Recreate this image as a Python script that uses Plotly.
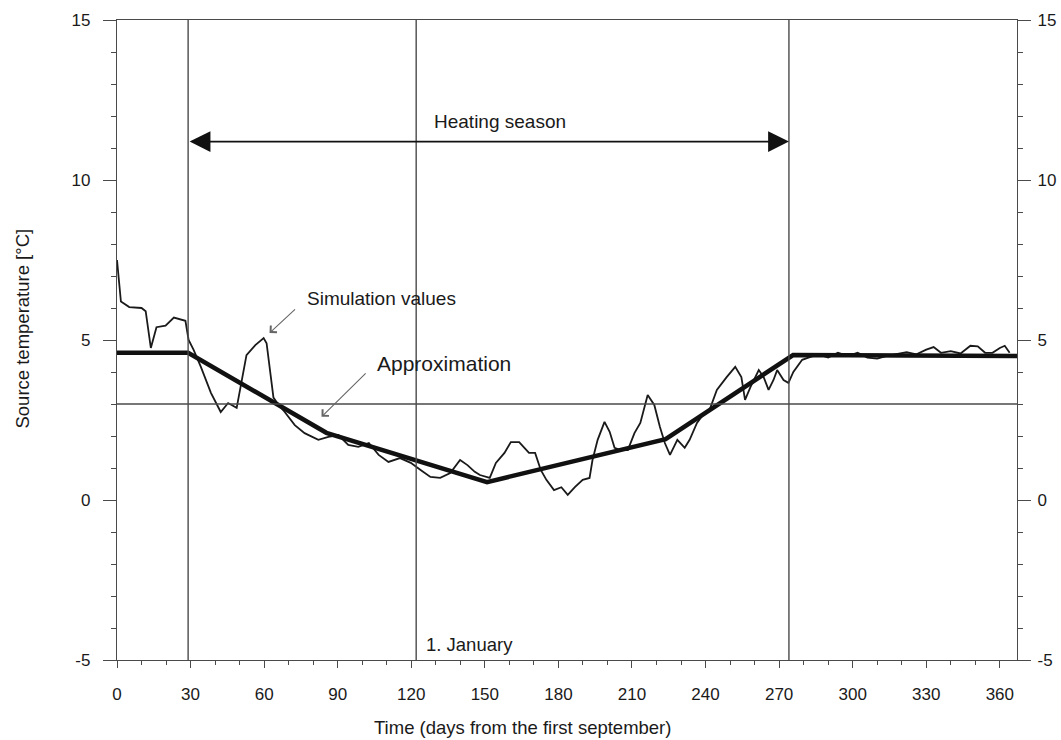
import plotly.graph_objects as go

# simulated source temperature (days from 1 September, deg C)
sim_days = [0, 1.6, 5, 10, 11.7, 13.8, 16.1, 19.8, 23.2, 27.9, 29.2, 31.2, 34.2, 38.3, 42.3,
            45.3, 48.8, 50.8, 52.8, 56.4, 59.8, 61, 63.8, 65.9, 68.4, 72.5, 76.5, 82.1, 86.2,
            90.3, 94.3, 98.4, 102.7, 106.7, 110.7, 115.4, 119.8, 123.8, 127.8, 131.8, 135.9,
            139.9, 142.9, 145.9, 148, 152, 154.5, 158, 160.6, 164, 168, 170.5, 172.8, 175.1,
            178.2, 181.2, 183.8, 186.7, 189.9, 192.7, 193.9, 196, 198.8, 200.9, 202.9, 205.3,
            208.3, 211, 213.4, 216.4, 219.1, 221.4, 223.4, 225.5, 228.5, 231.5, 233.5, 236.5,
            239.5, 241.6, 244.6, 248.6, 252.1, 254.6, 256.1, 258.3, 260.3, 261.7, 263.7, 265.7,
            267.7, 269.2, 271.8, 273.8, 275.8, 279.4, 282.8, 286, 290, 294, 298, 302, 306, 310,
            314, 318, 322, 326, 330, 333, 336, 340, 344, 348, 351, 354, 357, 360, 362, 364]
sim_temp = [7.5, 6.2, 6.03, 6.0, 5.9, 4.75, 5.4, 5.45, 5.7, 5.6, 5.0, 4.7, 4.16, 3.35, 2.75,
            3.03, 2.88, 3.75, 4.53, 4.84, 5.06, 4.9, 3.2, 2.97, 2.75, 2.34, 2.09, 1.88, 1.97,
            2.03, 1.72, 1.66, 1.78, 1.41, 1.19, 1.31, 1.16, 0.94, 0.72, 0.69, 0.84,
            1.25, 1.09, 0.88, 0.78, 0.69, 1.16, 1.47, 1.81, 1.81, 1.47, 1.47, 0.94, 0.63,
            0.31, 0.4, 0.16, 0.4, 0.63, 0.69, 1.25, 1.88, 2.44, 2.13, 1.63, 1.56,
            1.56, 2.09, 2.41, 3.28, 2.97, 2.28, 1.78, 1.41, 1.88, 1.63, 1.88, 2.41,
            2.72, 2.81, 3.44, 3.84, 4.16, 3.84, 3.13, 3.53, 3.84, 4.06, 3.84, 3.44,
            3.75, 4.06, 3.75, 3.66, 4.0, 4.38, 4.47, 4.55, 4.45, 4.6, 4.5, 4.6, 4.45, 4.42,
            4.5, 4.55, 4.62, 4.55, 4.7, 4.78, 4.6, 4.65, 4.58, 4.82, 4.8, 4.6, 4.6, 4.75, 4.82, 4.6]

# piecewise linear approximation
approx_days = [0, 29, 85.4, 150.9, 223.7, 275.7, 367]
approx_temp = [4.6, 4.6, 2.1, 0.56, 1.9, 4.53, 4.5]

season_start = 29
season_end = 274
january_day = 122
ref_temp = 3.0
arrow_temp = 11.2

x_ticks = list(range(0, 361, 30))
y_ticks = [-5, 0, 5, 10, 15]
y_tick_text = ["-5", "0", "5", "10", "15"]

font = "Liberation Sans, Arial, sans-serif"
ink = "#1a1a1a"
frame = "#4a4a4a"

fig = go.Figure()

fig.add_trace(go.Scatter(x=sim_days, y=sim_temp, mode="lines",
                         line=dict(color="#1a1a1a", width=1.8), hoverinfo="skip"))
fig.add_trace(go.Scatter(x=approx_days, y=approx_temp, mode="lines", yaxis="y2",
                         line=dict(color="#111111", width=4.5), hoverinfo="skip"))

for d in [season_start, january_day, season_end]:
    fig.add_vline(x=d, line=dict(color=frame, width=1.4))
fig.add_hline(y=ref_temp, line=dict(color=frame, width=1.4))

# heating season double arrow
fig.add_annotation(x=season_end, y=arrow_temp, ax=season_start, ay=arrow_temp,
                   xref="x", yref="y", axref="x", ayref="y", text="",
                   showarrow=True, arrowhead=2, arrowside="end+start",
                   arrowwidth=1.6, arrowsize=2.6, arrowcolor="#111111")
fig.add_annotation(x=156, y=11.84, text="Heating season", showarrow=False,
                   font=dict(family=font, size=19, color=ink))

# pointer labels
fig.add_annotation(x=62.2, y=5.22, ax=73.2, ay=6.0, axref="x", ayref="y", text="",
                   showarrow=True, arrowhead=4, arrowwidth=1.1, arrowsize=1.6,
                   arrowcolor="#666666")
fig.add_annotation(x=107.8, y=6.31, text="Simulation values", showarrow=False,
                   font=dict(family=font, size=19, color=ink))
fig.add_annotation(x=83.4, y=2.6, ax=102, ay=4.0, axref="x", ayref="y", text="",
                   showarrow=True, arrowhead=4, arrowwidth=1.1, arrowsize=1.6,
                   arrowcolor="#666666")
fig.add_annotation(x=133.4, y=4.28, text="Approximation", showarrow=False,
                   font=dict(family=font, size=21, color=ink))
fig.add_annotation(x=125, y=-4.53, text="1. January", showarrow=False, xanchor="left",
                   font=dict(family=font, size=18.5, color=ink))

# axis titles
fig.add_annotation(x=-0.1055, y=0.518, xref="paper", yref="paper", textangle=-90,
                   xanchor="center", yanchor="middle",
                   text="Source temperature [°C]", showarrow=False,
                   font=dict(family=font, size=18.5, color=ink))
fig.add_annotation(x=0.4505, y=-0.106, xref="paper", yref="paper",
                   xanchor="center", yanchor="middle",
                   text="Time (days from the first september)", showarrow=False,
                   font=dict(family=font, size=18.5, color=ink))

tick_font = dict(family=font, size=17, color=ink)
fig.update_layout(
    width=1061, height=740,
    margin=dict(l=117, r=44, t=20, b=80),
    paper_bgcolor="white", plot_bgcolor="white",
    showlegend=False,
    xaxis=dict(range=[0, 367], tickvals=x_ticks, showgrid=False, zeroline=False,
               automargin=False,
               showline=True, linecolor=frame, linewidth=1.4, mirror=True,
               ticks="outside", ticklen=7, tickcolor=frame, tickfont=tick_font,
               ticklabelstandoff=11,
               minor=dict(dtick=10, ticks="outside", ticklen=4, tickcolor=frame)),
    yaxis=dict(range=[-5, 15], tickvals=y_ticks, ticktext=y_tick_text,
               showgrid=False, zeroline=False, automargin=False,
               showline=True, linecolor=frame, linewidth=1.4,
               ticks="outside", ticklen=13, tickcolor=frame, tickfont=tick_font,
               ticklabelstandoff=9,
               minor=dict(dtick=1, ticks="outside", ticklen=5, tickcolor=frame)),
    yaxis2=dict(range=[-5, 15], tickvals=y_ticks, ticktext=y_tick_text,
                overlaying="y", side="right", automargin=False,
                showgrid=False, zeroline=False, showline=True, linecolor=frame,
                linewidth=1.4, ticks="outside", ticklen=13, tickcolor=frame,
                tickfont=tick_font, ticklabelstandoff=3,
                minor=dict(dtick=1, ticks="outside", ticklen=5, tickcolor=frame)),
)

# drop the default page margin so the 1061x740 figure fills the window exactly
fig.write_html("out.html",
               config={"displayModeBar": False},
               post_script="document.body.style.margin='0';"
                           "document.body.style.overflow='hidden';")
